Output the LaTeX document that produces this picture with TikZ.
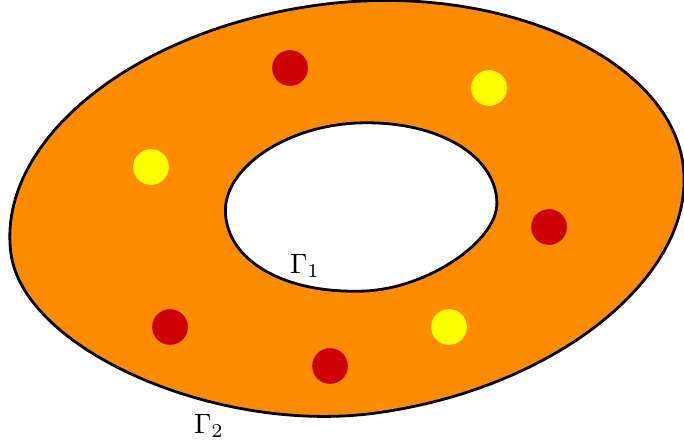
\documentclass[tikz,border=0pt]{standalone}
\usepackage{amsmath}
\usetikzlibrary{positioning}
\definecolor{ringorange}{RGB}{255,140,0}
\definecolor{dotred}{RGB}{204,0,0}
\definecolor{dotyellow}{RGB}{255,255,0}

\begin{document}
\begin{tikzpicture}[x=0.0126cm, y=-0.0126cm,
		boundary/.style={draw=black, line width=1pt},
		reddot/.style={fill=dotred, draw=none},
		yellowdot/.style={fill=dotyellow, draw=none},
		lbl/.style={inner sep=0pt, font=\normalsize}
		]
		\useasboundingbox (0,0) rectangle (684,446);
		
		% Outer boundary Gamma_2
		\begin{scope}[shift={(347,209)}, rotate=7.5]
			\draw[boundary, fill=ringorange] (339,0)
				.. controls (339,-109.2) and (179.7,-206) .. (0,-206)
				.. controls (-187.1,-206) and (-339,-113.7) .. (-339,0)
				.. controls (-339,96.8) and (-159.3,206) .. (0,206)
				.. controls (183.1,206) and (339,111.2) .. (339,0) -- cycle;
		\end{scope}
		
		% Inner boundary Gamma_1 (hole)
		\begin{scope}[shift={(361,207)}, rotate=2.2]
			\draw[boundary, fill=white] (136,0)
				.. controls (136,-48) and (77.5,-84.1) .. (0,-84.1)
				.. controls (-71.6,-84.1) and (-135.7,-44.4) .. (-135.7,0)
				.. controls (-135.7,49.1) and (-79.2,84.1) .. (0,84.1)
				.. controls (63.1,84.1) and (136,39.1) .. (136,0) -- cycle;
		\end{scope}
		
		% Red dots
		\foreach \px/\py in {290/68, 549/227, 170/327, 330/366}
			\fill[reddot] (\px,\py) circle[radius=0.225cm];
		
		% Yellow dots
		\foreach \px/\py in {489/88, 151/167, 449/327}
			\fill[yellowdot] (\px,\py) circle[radius=0.225cm];
		
		% Boundary labels
		\node[lbl] (gamma1) at (305,266) {$\Gamma_1$};
		\node[lbl] (gamma2) at (209,426) {$\Gamma_2$};
	\end{tikzpicture}
\end{document}
